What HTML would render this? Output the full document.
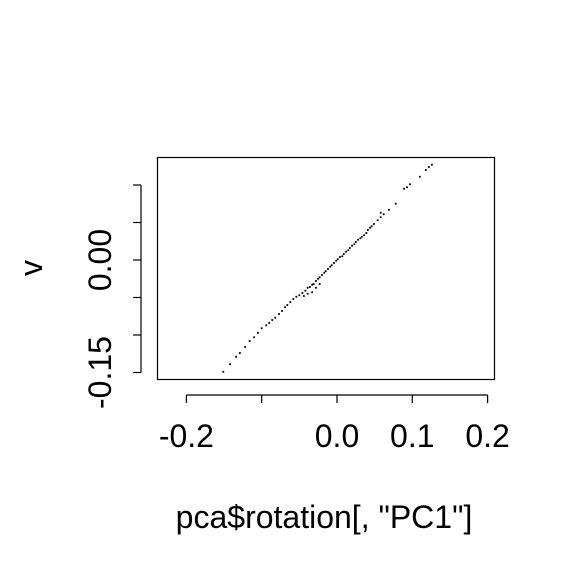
<!DOCTYPE html>
<html><head><meta charset="utf-8"><style>body{margin:0;background:#fff}svg{display:block}text{font-family:"Liberation Sans",sans-serif;font-size:32px;fill:#000}</style></head>
<body>
<svg width="576" height="576">
<rect x="157.5" y="157.5" width="337" height="222" fill="none" stroke="#000" stroke-width="1.2"/>
<g id="axes"></g>
<g id="pts"></g>
<text x="324" y="528" text-anchor="middle">pca$rotation[, "PC1"]</text>
<text transform="translate(42,268) rotate(-90)" text-anchor="middle">v</text>
</svg>
<script>
const xs=[-0.151,-0.142,-0.134,-0.129,-0.122,-0.116,-0.110,-0.105,-0.100,-0.094,-0.090,-0.086,-0.082,-0.077,-0.073,-0.069,-0.066,-0.062,-0.058,-0.054,-0.050,-0.046,-0.042,-0.039,-0.036,-0.033,-0.031,-0.028,-0.025,-0.023,-0.020,-0.017,-0.015,-0.012,-0.009,-0.007,-0.004,-0.001,0.001,0.004,0.007,0.009,0.012,0.015,0.017,0.020,0.023,0.025,0.028,0.031,0.033,0.036,0.039,0.041,0.044,0.046,0.049,0.054,0.058,0.062,0.069,0.058,0.078,0.089,0.093,0.097,0.110,0.118,0.122,0.126,-0.039,-0.033,-0.028,-0.023,-0.044];
const ys=[-0.149,-0.139,-0.129,-0.124,-0.116,-0.108,-0.103,-0.097,-0.091,-0.087,-0.084,-0.080,-0.077,-0.072,-0.068,-0.063,-0.060,-0.056,-0.052,-0.049,-0.047,-0.044,-0.041,-0.037,-0.036,-0.033,-0.032,-0.028,-0.025,-0.023,-0.020,-0.017,-0.015,-0.012,-0.009,-0.007,-0.004,-0.001,0.001,0.004,0.005,0.008,0.011,0.013,0.016,0.019,0.021,0.024,0.027,0.029,0.031,0.033,0.036,0.040,0.043,0.045,0.048,0.053,0.057,0.061,0.067,0.063,0.075,0.095,0.097,0.101,0.111,0.120,0.124,0.127,-0.045,-0.043,-0.037,-0.032,-0.048];
const xTicks=[-0.2,-0.1,0.0,0.1,0.2];
const xTickLabels=["-0.2","","0.0","0.1","0.2"];
const yTicks=[-0.15,-0.10,-0.05,0.00,0.05,0.10];
const yTickLabels=["-0.15","","","0.00","",""];
const X=v=>337+v*753, Y=v=>260-v*750;
const NS="http://www.w3.org/2000/svg";
const ax=document.getElementById('axes'), pg=document.getElementById('pts');
function mk(t,a,p){const e=document.createElementNS(NS,t);for(const k in a)e.setAttribute(k,a[k]);p.appendChild(e);return e;}
mk('line',{x1:X(xTicks[0]),x2:X(xTicks[xTicks.length-1]),y1:395,y2:395,stroke:'#000','stroke-width':1.2},ax);
mk('line',{x1:141,x2:141,y1:Y(yTicks[0]),y2:Y(yTicks[yTicks.length-1]),stroke:'#000','stroke-width':1.2},ax);
xTicks.forEach((v,i)=>{const l=mk('line',{x1:X(v),x2:X(v),y1:395,y2:403,stroke:'#000','stroke-width':1.2},ax);


if(xTickLabels[i]){const t=mk('text',{x:X(v),y:447,'text-anchor':'middle'},ax);t.textContent=xTickLabels[i];

}});
yTicks.forEach((v,i)=>{const l=mk('line',{x1:133,x2:141,y1:Y(v),y2:Y(v),stroke:'#000','stroke-width':1.2},ax);


if(yTickLabels[i]){const t=mk('text',{transform:`translate(111,${Y(v)}) rotate(-90)`,'text-anchor':'middle'},ax);t.textContent=yTickLabels[i];

}});
xs.forEach((v,i)=>{const r=mk('rect',{x:X(v)-0.9,y:Y(ys[i])-0.9,width:1.8,height:1.8,fill:'#000'},pg);

});
</script>
</body></html>
